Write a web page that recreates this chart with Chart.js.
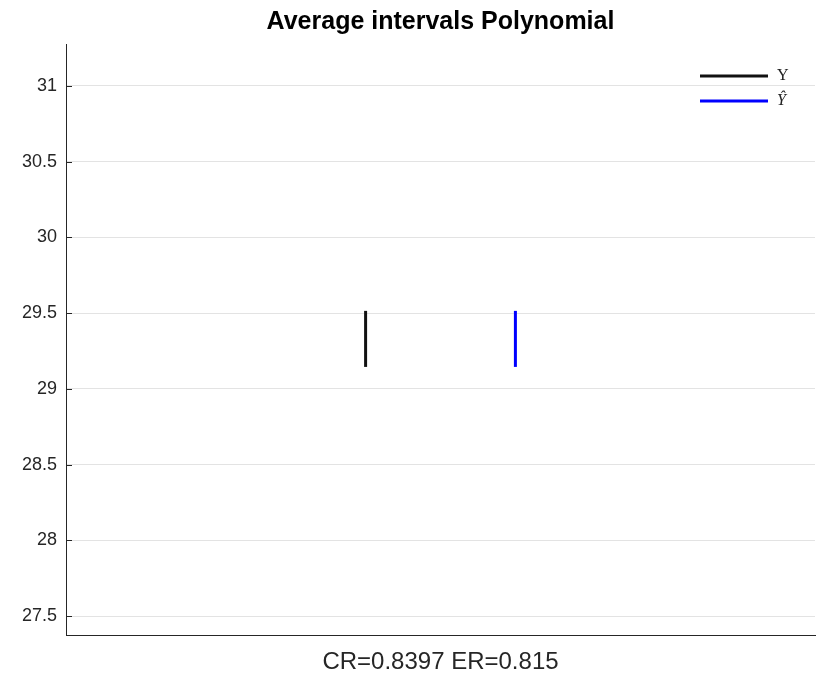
<!DOCTYPE html>
<html>
<head>
<meta charset="utf-8">
<script src="https://cdn.jsdelivr.net/npm/chart.js@4"></script>
<style>
  html, body { margin: 0; padding: 0; background: #fff; }
  #wrap { width: 816px; height: 677px; }
</style>
</head>
<body>
<div id="wrap"><canvas id="chart"></canvas></div>
<script>
// values
const titleText = "Average intervals Polynomial";
const xLabel = "CR=0.8397 ER=0.815";
const seriesLabels = ["Y", "\u0176"];
const seriesColors = ["#111111", "#0000ff"];
const intervalX = [2, 3];
const intervalLow = [29.145, 29.145];
const intervalHigh = [29.515, 29.515];
const yTicks = [27.5, 28, 28.5, 29, 29.5, 30, 30.5, 31];
const yMin = 27.375, yMax = 31.277;
const xMin = 0, xMax = 5;

const datasets = intervalX.map((x, i) => ({
    label: seriesLabels[i],
    data: [{ x: x, y: intervalLow[i] }, { x: x, y: intervalHigh[i] }],
    borderColor: seriesColors[i],
    backgroundColor: seriesColors[i],
    borderWidth: 3,
    showLine: true,
    pointRadius: 0
}));

const sans = "'Liberation Sans', Arial, sans-serif";

// inward tick marks on the y axis, like the original
const innerTicks = {
    id: "innerTicks",
    afterDraw(chart) {
        const ctx = chart.ctx;
        const y = chart.scales.y;
        ctx.save();
        ctx.strokeStyle = "#262626";
        ctx.lineWidth = 1;
        y.ticks.forEach(t => {
            const py = Math.round(y.getPixelForValue(t.value)) + 0.5;
            ctx.beginPath();
            ctx.moveTo(y.right, py);
            ctx.lineTo(y.right + 6, py);
            ctx.stroke();
        });
        ctx.restore();
    }
};

// legend in the top right corner, no box
const cornerLegend = {
    id: "cornerLegend",
    afterDraw(chart) {
        const ctx = chart.ctx;
        const area = chart.chartArea;
        ctx.save();
        chart.data.datasets.forEach((ds, i) => {
            const y = area.top + 32 + i * 25;
            const x0 = area.right - 115;
            ctx.strokeStyle = ds.borderColor;
            ctx.lineWidth = 3;
            ctx.beginPath();
            ctx.moveTo(x0, y);
            ctx.lineTo(x0 + 68, y);
            ctx.stroke();
            ctx.fillStyle = "#222";
            ctx.font = (i === 1 ? "italic " : "") + "16px 'Liberation Serif', 'DejaVu Serif', serif";
            ctx.textBaseline = "middle";
            ctx.textAlign = "left";
            ctx.fillText(ds.label, x0 + 77, y);
        });
        ctx.restore();
    }
};

new Chart(document.getElementById("chart"), {
    type: "scatter",
    data: { datasets },
    plugins: [innerTicks, cornerLegend],
    options: {
        responsive: true,
        maintainAspectRatio: false,
        animation: false,
        layout: { padding: { left: 0, right: 1, top: 0, bottom: 0 } },
        plugins: {
            legend: { display: false },
            tooltip: { enabled: false }
        },
        scales: {
            // empty top axis, only carries the title centred over the plot
            top: {
                type: "linear",
                position: "top",
                axis: "x",
                min: xMin,
                max: xMax,
                ticks: { display: false },
                grid: { display: false, drawTicks: false },
                border: { display: false },
                title: {
                    display: true,
                    text: titleText,
                    color: "#000",
                    font: { family: sans, size: 25, weight: "bold", lineHeight: 1.2 },
                    padding: { top: 7, bottom: 0 }
                },
                afterFit(scale) { scale.height = 44; }
            },
            x: {
                type: "linear",
                position: "bottom",
                min: xMin,
                max: xMax,
                ticks: { display: false },
                grid: { display: false, drawTicks: false },
                border: { display: true, color: "#262626", width: 1 },
                title: {
                    display: true,
                    text: xLabel,
                    color: "#262626",
                    font: { family: sans, size: 24, lineHeight: 1.2 },
                    padding: { top: 0, bottom: 0 }
                },
                afterFit(scale) { scale.height = 42; }
            },
            y: {
                min: yMin,
                max: yMax,
                afterBuildTicks(scale) { scale.ticks = yTicks.map(v => ({ value: v })); },
                ticks: {
                    color: "#262626",
                    padding: 9,
                    font: { family: sans, size: 18 },
                    callback: v => String(v)
                },
                grid: { color: "#e3e3e3", lineWidth: 1, drawTicks: false },
                border: { display: true, color: "#262626", width: 1 },
                afterFit(scale) { scale.width = 66; }
            }
        }
    }
});
</script>
</body>
</html>
